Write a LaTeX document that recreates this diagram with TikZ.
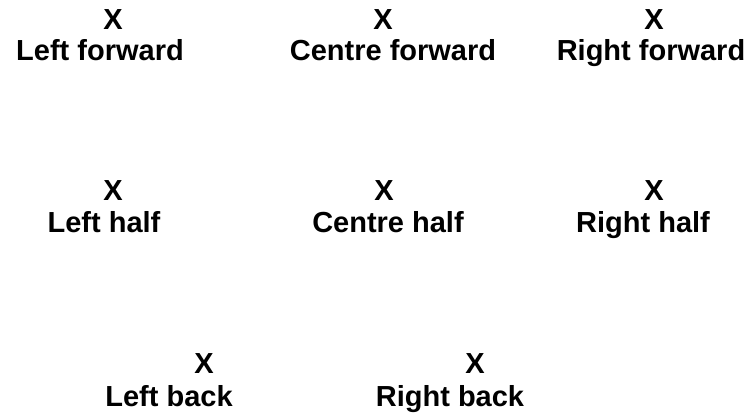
\documentclass[tikz,border=0pt]{standalone}
\usepackage{fontspec}
\setmainfont{Liberation Sans}
\usepackage{xcolor}
\usepackage{tikz}
\usetikzlibrary{positioning}
\tikzset{
  player/.style = {anchor=base, inner sep=0pt, text=black,
                   font=\bfseries\fontsize{29}{32}\selectfont},
  xpos/.style   = {player},
  plab/.style   = {player},
}

\begin{document}
\begin{tikzpicture}[x=1pt,y=1pt]
  \useasboundingbox (0,0) rectangle (751,417);

  % ---- FORWARDS ----
  \node[xpos] (xlf) at (113,387) {X};
  \node[plab] (lf)  at (100,356) {Left forward};
  \node[xpos] (xcf) at (383,387) {X};
  \node[plab] (cf)  at (393,356) {Centre forward};
  \node[xpos] (xrf) at (654,387) {X};
  \node[plab] (rf)  at (651,356) {Right forward};

  % ---- HALVES ----
  \node[xpos] (xlh) at (113,216) {X};
  \node[plab] (lh)  at (104,184) {Left half};
  \node[xpos] (xch) at (384,216) {X};
  \node[plab] (ch)  at (388,184) {Centre half};
  \node[xpos] (xrh) at (654,216) {X};
  \node[plab] (rh)  at (643,184) {Right half};

  % ---- BACKS ----
  \node[xpos] (xlb) at (204,43) {X};
  \node[plab] (lb)  at (169,11) {Left back};
  \node[xpos] (xrb) at (475,43) {X};
  \node[plab] (rb)  at (450,11) {Right back};
\end{tikzpicture}
\end{document}
